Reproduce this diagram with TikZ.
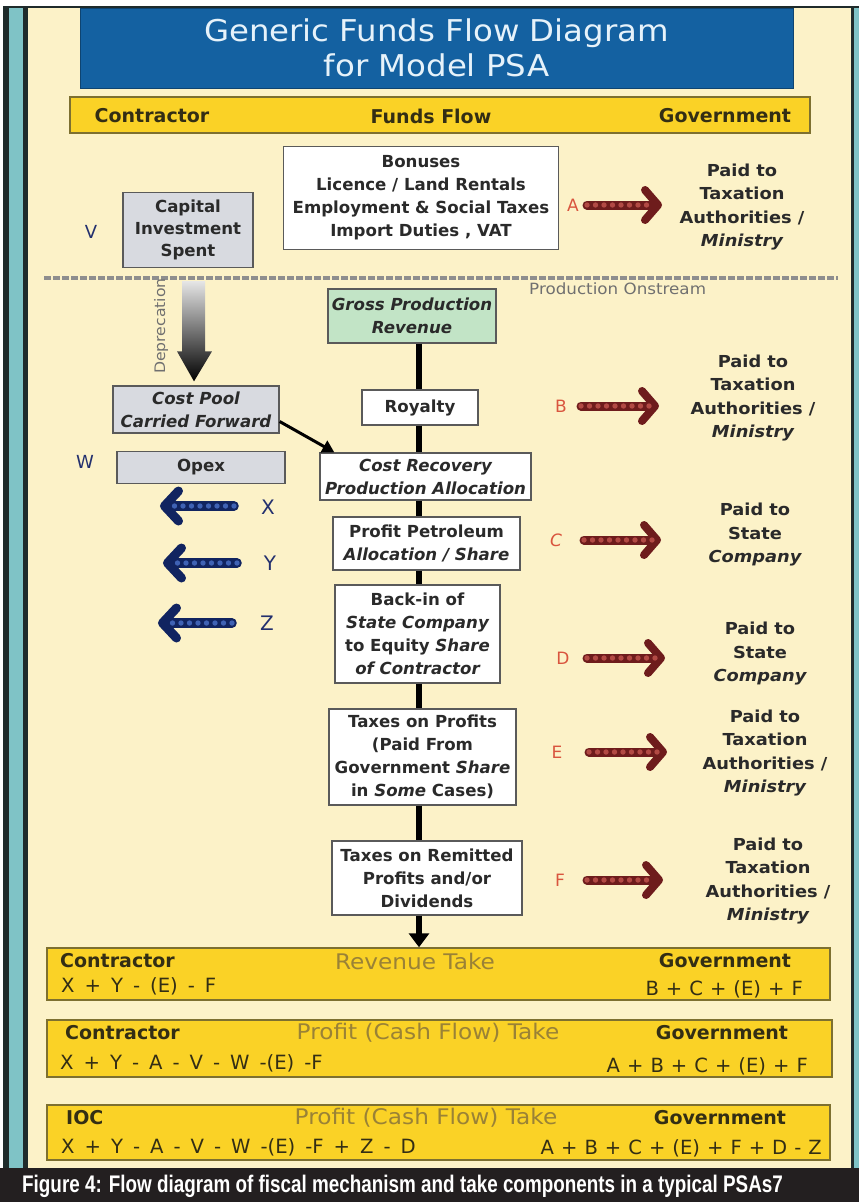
\documentclass[tikz,border=0pt]{standalone}
\usepackage{fontspec}
\setmainfont{DejaVu Sans}
\newfontfamily\capfont[FakeStretch=0.786]{Liberation Sans}
\newfontfamily\formfont[WordSpace=1.6, Scale=1.002]{DejaVu Sans}
\newfontfamily\formfontb[WordSpace=1.13, Scale=0.998]{DejaVu Sans}
\newfontfamily\ttlfont[FakeStretch=1.08]{DejaVu Sans}
\usetikzlibrary{arrows.meta,calc}
\definecolor{cream}{HTML}{FCF2C8}
\definecolor{tealc}{HTML}{7FC3C6}
\definecolor{framed}{HTML}{1F2B2B}
\definecolor{capbg}{HTML}{231F20}
\definecolor{titleb}{HTML}{1461A1}
\definecolor{titlet}{HTML}{E6F2FA}
\definecolor{yel}{HTML}{FAD226}
\definecolor{ybord}{HTML}{7D7030}
\definecolor{oliv}{HTML}{332E14}
\definecolor{tanc}{HTML}{9A8236}
\definecolor{boxline}{HTML}{5A5A5A}
\definecolor{boxgray}{HTML}{D8DAE0}
\definecolor{boxgreen}{HTML}{C2E4C6}
\definecolor{txt}{HTML}{2A2A2A}
\definecolor{letred}{HTML}{D9553E}
\definecolor{beadRd}{HTML}{6E1C1C}
\definecolor{beadRl}{HTML}{B24A44}
\definecolor{letblue}{HTML}{23306E}
\definecolor{beadBd}{HTML}{112460}
\definecolor{beadBl}{HTML}{3F62B4}
\definecolor{sepgray}{HTML}{8E8E8E}
\definecolor{faint}{HTML}{707070}
\tikzset{
  fbox/.style={draw=boxline, line width=1.3pt, fill=white, inner sep=0pt, align=center,
    font=\fontsize{16.6}{23}\selectfont\bfseries, text=txt},
  gbox/.style={fbox, fill=boxgray},
  grbox/.style={fbox, fill=boxgreen},
  itbox/.style={font=\fontsize{16.6}{23}\selectfont\bfseries\itshape},
  ybox/.style={draw=ybord, line width=1.5pt, fill=yel, inner sep=0pt},
  hdrtxt/.style={font=\fontsize{19}{19}\selectfont\bfseries, text=oliv, inner sep=0pt},
  ymid/.style={font=\ttlfont\fontsize{21.5}{22}\selectfont, text=tanc, inner sep=0pt},
  yform/.style={font=\formfont\fontsize{19.6}{20}\selectfont, text=oliv, inner sep=0pt},
  yformb/.style={font=\formfontb\fontsize{19.6}{20}\selectfont, text=oliv, inner sep=0pt},
  paid/.style={align=center, font=\ttlfont\fontsize{16.5}{23.5}\selectfont\bfseries, text=txt, inner sep=0pt},
  redlet/.style={font=\fontsize{17}{17}\selectfont, text=letred, inner sep=0pt},
  bluelet/.style={font=\fontsize{18}{18}\selectfont, text=letblue, inner sep=0pt},
  beadR/.style={draw=beadRd, line width=9pt, line cap=round,
    -{Straight Barb[length=13pt,width=30pt,line width=8pt,round]},
    postaction={draw=beadRl, line width=5.4pt, dash pattern=on 0pt off 8.5pt, line cap=round, -, shorten >=9pt}},
  beadB/.style={draw=beadBd, line width=9.5pt, line cap=round,
    -{Straight Barb[length=14pt,width=30pt,line width=9pt,round]},
    postaction={draw=beadBl, line width=5.4pt, dash pattern=on 0pt off 8.5pt, line cap=round, -, shorten >=11pt}},
  spine/.style={line width=6pt, draw=black},
}
\begin{document}
\begin{tikzpicture}[x=1pt,y=-1pt]
\useasboundingbox (0,0) rectangle (859,1202);
\fill[white] (0,0) rectangle (859,1202);
% frame
\fill[framed] (3,6) rectangle (859,1168);
\fill[tealc] (9,8) rectangle (23,1168);
\fill[cream] (28,8) rectangle (851,1168);
\fill[tealc] (854,8) rectangle (859,1168);
\fill[capbg] (0,1168) rectangle (859,1202);

% title
\node[draw=titleb!70!black, line width=1pt, fill=titleb, minimum width=713pt, minimum height=80pt,
      align=center, text=titlet, font=\ttlfont\fontsize{30}{35}\selectfont] (title) at (436.5,48)
      {Generic Funds Flow Diagram\\for Model PSA};

% header bar
\node[ybox, minimum width=740pt, minimum height=36pt] (hdr) at (440,115) {};
\node[hdrtxt] (hc) at (152,116) {Contractor};
\node[hdrtxt] (hf) at (431,116) {Funds Flow};
\node[hdrtxt] (hg) at (725,116) {Government};

% top section
\node[fbox, minimum width=275pt, minimum height=103pt] (bonus) at (421,198)
  {Bonuses\\Licence / Land Rentals\\Employment \& Social Taxes\\Import Duties , VAT};
\node[gbox, minimum width=130pt, minimum height=75pt, font=\fontsize{16.6}{22}\selectfont\bfseries] (cap) at (188,230)
  {Capital\\Investment\\Spent};
\node[bluelet] (V) at (91,232) {V};
\node[redlet] (A) at (573,205) {A};
\coordinate (aS) at (587,205);
\coordinate (aE) at (662,205);
\draw[beadR] (aS) -- (aE);
\node[paid] (pA) at (742,207) {Paid to\\Taxation\\Authorities /\\{\itshape Ministry}};

% separator
\draw[sepgray, line width=4pt, dash pattern=on 7pt off 2pt] (44,278) -- (838,278);
\node[anchor=west, text=faint, font=\ttlfont\fontsize{15.5}{16}\selectfont, inner sep=0pt] (po) at (529,289) {Production Onstream};

% central boxes
\node[grbox, itbox, minimum width=168pt, minimum height=54pt] (gross) at (412,316) {Gross Production\\Revenue};
\node[fbox, minimum width=116pt, minimum height=35pt] (roy) at (420,407.5) {Royalty};
\node[gbox, itbox, minimum width=166pt, minimum height=47pt] (pool) at (196,409.5) {Cost Pool\\Carried Forward};
\node[gbox, minimum width=168pt, minimum height=32pt] (opex) at (201,467.5) {Opex};
\node[fbox, itbox, minimum width=211pt, minimum height=47pt] (costrec) at (425.5,476.5) {Cost Recovery\\Production Allocation};
\node[fbox, minimum width=187pt, minimum height=53pt] (profit) at (426.5,543.5) {Profit Petroleum\\{\itshape Allocation / Share}};
\node[fbox, minimum width=165pt, minimum height=98pt] (backin) at (417.5,634)
  {Back-in of\\{\itshape State Company}\\to Equity {\itshape Share}\\{\itshape of Contractor}};
\node[fbox, minimum width=187pt, minimum height=96pt] (taxprof) at (422.5,757)
  {Taxes on Profits\\(Paid From\\Government {\itshape Share}\\in {\itshape Some} Cases)};
\node[fbox, minimum width=190pt, minimum height=74pt] (taxrem) at (427,878)
  {Taxes on Remitted\\Profits and/or\\Dividends};

% depreciation arrow
\coordinate (dtip) at ($(pool.north)+(-2,-4)$);
\coordinate (dtop) at ($(cap.south -| dtip)+(0,13)$);
\shade[top color=black!10, middle color=black!80, bottom color=black]
  ($(dtop)+(-12,0)$) -- ($(dtop)+(11,0)$) -- ($(dtip)+(11,-30)$) -- ($(dtip)+(18,-30)$) -- (dtip)
  -- ($(dtip)+(-17,-30)$) -- ($(dtip)+(-12,-30)$) -- cycle;
\node[rotate=90, text=faint, font=\ttlfont\fontsize{14.5}{15}\selectfont, inner sep=0pt] (dep) at (161,326) {Deprecation};

% pool to cost recovery
\draw[line width=3pt, -{Triangle[length=12pt,width=13pt]}] ($(pool.east)+(0,12)$) -- ($(costrec.north west)+(15,0)$);

% left letters and arrows
\node[bluelet] (W) at (85,462) {W};
\node[bluelet, font=\fontsize{20}{20}\selectfont] (X) at (268,507) {X};
\node[bluelet, font=\fontsize{20}{20}\selectfont] (Y) at (270,563) {Y};
\node[bluelet, font=\fontsize{20}{20}\selectfont] (Z) at (267,623) {Z};
\coordinate (xS) at (234,506); \coordinate (xE) at (160,506);
\coordinate (yS) at (237,563); \coordinate (yE) at (163,563);
\coordinate (zS) at (232,623); \coordinate (zE) at (158,623);
\draw[beadB] (xS) -- (xE);
\draw[beadB] (yS) -- (yE);
\draw[beadB] (zS) -- (zE);

% spine
\coordinate (sp) at (419,0);
\draw[spine] (gross.south -| sp) -- (roy.north -| sp);
\draw[spine] (roy.south -| sp) -- (costrec.north -| sp);
\draw[spine] (costrec.south -| sp) -- (profit.north -| sp);
\draw[spine] (profit.south -| sp) -- (backin.north -| sp);
\draw[spine] (backin.south -| sp) -- (taxprof.north -| sp);
\draw[spine] (taxprof.south -| sp) -- (taxrem.north -| sp);

% right side letters, arrows, labels
\node[redlet] (B) at (561,406) {B};
\coordinate (bS) at (581,406); \coordinate (bE) at (659,406);
\draw[beadR] (bS) -- (bE);
\node[paid] (pB) at (753,398) {Paid to\\Taxation\\Authorities /\\{\itshape Ministry}};

\node[redlet, font=\fontsize{17}{17}\selectfont\itshape] (C) at (556,540) {C};
\coordinate (cS) at (584,540); \coordinate (cE) at (661,540);
\draw[beadR] (cS) -- (cE);
\node[paid] (pC) at (755,535) {Paid to\\State\\{\itshape Company}};

\node[redlet] (D) at (563,658) {D};
\coordinate (dS) at (587,658); \coordinate (dE) at (665,658);
\draw[beadR] (dS) -- (dE);
\node[paid] (pD) at (760,654) {Paid to\\State\\{\itshape Company}};

\node[redlet] (E) at (557,752) {E};
\coordinate (eS) at (589,752); \coordinate (eE) at (667,752);
\draw[beadR] (eS) -- (eE);
\node[paid] (pE) at (765,753) {Paid to\\Taxation\\Authorities /\\{\itshape Ministry}};

\node[redlet] (F) at (560,880) {F};
\coordinate (fS) at (587,880); \coordinate (fE) at (663,880);
\draw[beadR] (fS) -- (fE);
\node[paid] (pF) at (768,881) {Paid to\\Taxation\\Authorities /\\{\itshape Ministry}};

% bottom yellow boxes
\node[ybox, minimum width=783pt, minimum height=52pt] (yb1) at (438.5,974) {};
\node[ybox, minimum width=785pt, minimum height=57pt] (yb2) at (439.5,1048.5) {};
\node[ybox, minimum width=783pt, minimum height=55pt] (yb3) at (438.5,1132.5) {};
\draw[spine, -{Triangle[length=14pt,width=20pt]}] (taxrem.south -| sp) -- (yb1.north -| sp);

\node[hdrtxt, anchor=west] (c1) at (60,961) {Contractor};
\node[ymid] (m1) at (415,961) {Revenue Take};
\node[hdrtxt] (g1) at (725,961) {Government};
\node[yform, anchor=west] (f1) at (61,986) {X + Y - (E) - F};
\node[yformb, anchor=east] (r1) at (803,989) {B + C + (E) + F};

\node[hdrtxt, anchor=west] (c2) at (65,1033) {Contractor};
\node[ymid] (m2) at (428,1033) {Profit (Cash Flow) Take};
\node[hdrtxt] (g2) at (722,1033) {Government};
\node[yform, anchor=west] (f2) at (60,1063) {X + Y - A - V - W -(E) -F};
\node[yformb, anchor=east] (r2) at (808,1066) {A + B + C + (E) + F};

\node[hdrtxt, anchor=west] (c3) at (66,1118) {IOC};
\node[ymid] (m3) at (426,1118) {Profit (Cash Flow) Take};
\node[hdrtxt] (g3) at (720,1118) {Government};
\node[yform, anchor=west] (f3) at (61,1147) {X + Y - A - V - W -(E) -F + Z - D};
\node[yformb, anchor=east] (r3) at (822,1148) {A + B + C + (E) + F + D - Z};

% caption
\node[anchor=west, text=white, font=\capfont\bfseries\fontsize{24}{24}\selectfont, inner sep=0pt] (capt) at (22,1186)
  {Figure 4: Flow diagram of fiscal mechanism and take components in a typical PSAs7};
\end{tikzpicture}
\end{document}
